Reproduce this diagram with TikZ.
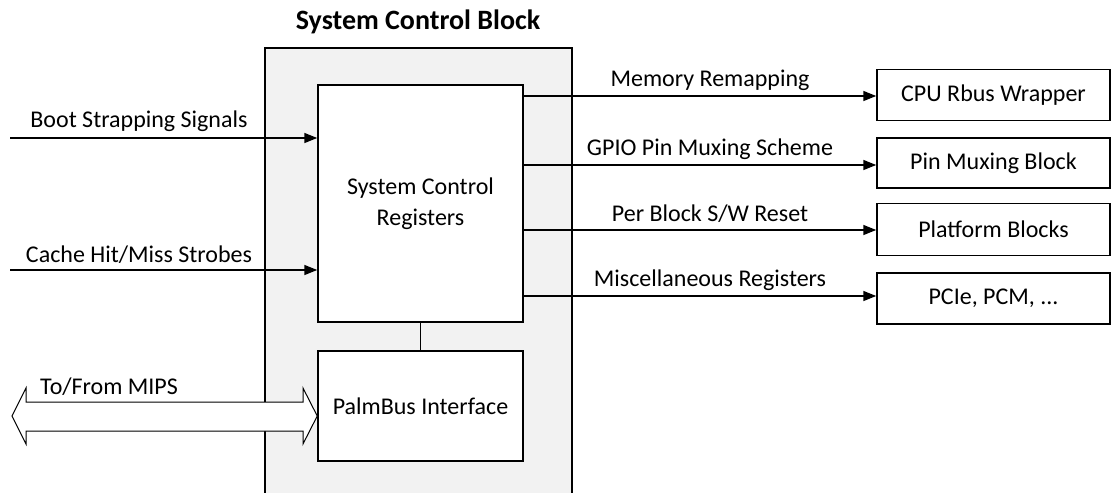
\documentclass[tikz,border=0pt]{standalone}
\usepackage{fontspec}
\setmainfont{Carlito}
\usetikzlibrary{arrows.meta,shapes.arrows}
\definecolor{blockgray}{HTML}{F2F2F2}
\tikzset{
  x=1pt,y=-1pt,
  box/.style={draw=black,line width=1.5pt,fill=white,inner sep=0pt},
  sig/.style={line width=1.5pt,-{Triangle[length=13pt,width=10pt]}},
  lbl/.style={font=\fontsize{24}{28}\selectfont,inner sep=0pt},
}
\begin{document}
\begin{tikzpicture}
\useasboundingbox (0,0) rectangle (1112,493);
% outer system control block (open at the bottom)
\fill[blockgray] (265,48) rectangle (572,493);
\draw[line width=1.5pt] (265,493) -- (265,48) -- (572,48) -- (572,493);
\node[inner sep=0pt,font=\fontsize{28}{32}\selectfont\bfseries] (title) at (418,22) {System Control Block};
% inner boxes
\node[box,minimum width=205pt,minimum height=237pt,align=center,lbl] (reg) at (420.5,203.5) {System Control\\[3pt]Registers};
\node[box,minimum width=205pt,minimum height=110pt,lbl] (palm) at (420.5,406) {PalmBus Interface};
\draw[line width=1.5pt] (reg.south) -- (palm.north);
% right blocks
\node[box,minimum width=233pt,minimum height=51pt,lbl] (cpu) at (993.5,95) {CPU Rbus Wrapper};
\node[box,minimum width=233pt,minimum height=50pt,lbl] (pin) at (993.5,163) {Pin Muxing Block};
\node[box,minimum width=233pt,minimum height=52pt,lbl] (plat) at (993.5,229.5) {Platform Blocks};
\node[box,minimum width=233pt,minimum height=51pt,lbl] (pcie) at (993.5,298.5) {PCIe, PCM, ...};
% outgoing signals
\draw[sig] (reg.east |- 0,96) coordinate (o1) -- (cpu.west |- o1);
\draw[sig] (reg.east |- 0,165) coordinate (o2) -- (pin.west |- o2);
\draw[sig] (reg.east |- 0,230) coordinate (o3) -- (plat.west |- o3);
\draw[sig] (reg.east |- 0,296) coordinate (o4) -- (pcie.west |- o4);
\node[lbl] (l1) at (710,80) {Memory Remapping};
\node[lbl] (l2) at (710,149) {GPIO Pin Muxing Scheme};
\node[lbl] (l3) at (710,214) {Per Block S/W Reset};
\node[lbl] (l4) at (710,280) {Miscellaneous Registers};
% incoming signals
\coordinate (i1) at (10,138);
\coordinate (i2) at (10,270);
\draw[sig] (i1) -- (reg.west |- i1);
\draw[sig] (i2) -- (reg.west |- i2);
\node[lbl] (bl) at (139,121) {Boot Strapping Signals};
\node[lbl] (cl) at (139,255) {Cache Hit/Miss Strobes};
% double bus arrow
\draw[line width=1pt,fill=white] (12,416) -- (26,388) -- (26,402) -- (303,402) -- (303,388) -- (palm.west |- 0,416) -- (303,444) -- (303,431) -- (26,431) -- (26,444) -- cycle;
\node[lbl,anchor=west] (ml) at (40,387) {To/From MIPS};
\end{tikzpicture}
\end{document}
